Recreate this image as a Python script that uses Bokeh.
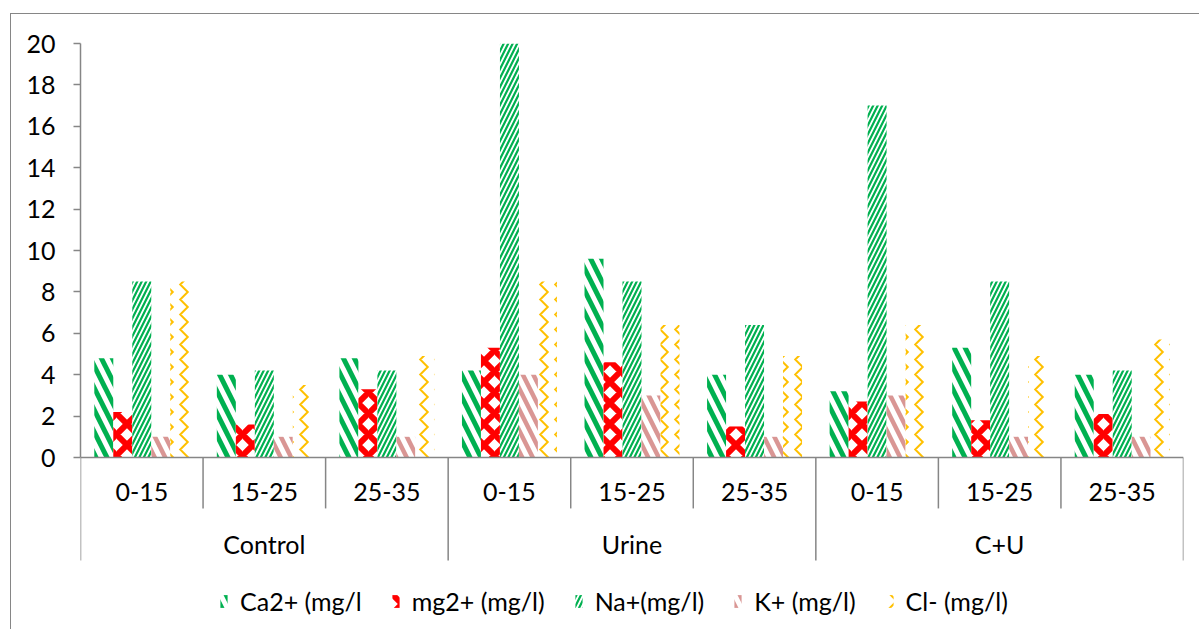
from bokeh.plotting import figure
from bokeh.models import (FactorRange, Range1d, FixedTicker, Span, Legend, LegendItem,
                          ColumnDataSource, LinearAxis)
from bokeh.transform import dodge
from bokeh.core.properties import value
from bokeh.embed import file_html
from bokeh.resources import INLINE

# ---------------- data ----------------
groups = ["Control", "Urine", "C+U"]
depths = ["0-15", "15-25", "25-35"]
series_names = ["Ca2+ (mg/l", "mg2+ (mg/l)", "Na+(mg/l)", "K+ (mg/l)", "Cl- (mg/l)"]
ca = [4.8, 4.0, 4.8, 4.2, 9.6, 4.0, 3.2, 5.3, 4.0]
mg = [2.2, 1.6, 3.3, 5.3, 4.6, 1.5, 2.7, 1.8, 2.1]
na = [8.5, 4.2, 4.2, 20.0, 8.5, 6.4, 17.0, 8.5, 4.2]
k = [1.0, 1.0, 1.0, 4.0, 3.0, 1.0, 3.0, 1.0, 1.0]
cl = [8.5, 3.5, 4.9, 8.5, 6.4, 4.9, 6.4, 4.9, 5.7]
y_ticks = [0, 2, 4, 6, 8, 10, 12, 14, 16, 18, 20]

FONT = "Lato"
FS = "25px"
GRAY = "#868686"

factors = [(g, d) for g in groups for d in depths]
src = ColumnDataSource(dict(x=factors, ca=ca, mg=mg, na=na, k=k, cl=cl))

p = figure(
    x_range=FactorRange(*factors, factor_padding=0, group_padding=0, subgroup_padding=0),
    y_range=Range1d(-8.357, 20),
    width=1189, height=616,
    output_backend="svg", toolbar_location=None,
    x_axis_location=None, y_axis_location=None,
    min_border_left=69, min_border_right=17, min_border_top=29, min_border_bottom=0,
    margin=(13, 0, 0, 10),
    styles={"border-left": "1px solid #868686", "border-top": "1px solid #868686"},
)
p.grid.visible = False
p.outline_line_color = None
p.background_fill_color = "white"
p.border_fill_color = "white"

yax = LinearAxis(bounds=(0, 20), ticker=FixedTicker(ticks=y_ticks))
yax.axis_line_color = GRAY
yax.axis_line_width = 1.5
yax.major_tick_line_color = GRAY
yax.major_tick_line_width = 1.5
yax.major_tick_out = 7
yax.major_tick_in = 0
yax.minor_tick_line_color = None
yax.major_label_standoff = 18
yax.major_label_text_font = FONT
yax.major_label_text_font_size = FS
yax.major_label_text_color = "black"
p.add_layout(yax, "left")

bw = 0.155
offsets = [-2 * bw, -bw, 0, bw, 2 * bw]
cols = ["ca", "mg", "na", "k", "cl"]
styles = [
    dict(hatch_color="#00B050", hatch_pattern="\\", hatch_scale=22, hatch_weight=5),
    dict(hatch_color="#FF0000", hatch_pattern="x", hatch_scale=21, hatch_weight=6),
    dict(hatch_color="#00B050", hatch_pattern="/", hatch_scale=9, hatch_weight=2.2),
    dict(hatch_color="#D99694", hatch_pattern="\\", hatch_scale=21, hatch_weight=4.5),
    dict(hatch_color="#FFC000", hatch_pattern=">", hatch_scale=15, hatch_weight=2),
]
renderers = []
for col, off, st in zip(cols, offsets, styles):
    r = p.vbar(x=dodge("x", off, range=p.x_range), top=col, width=bw, bottom=0,
               source=src, fill_color="white", line_color=None, **st)
    renderers.append(r)

# horizontal axis line
p.add_layout(Span(location=0, dimension="width", line_color=GRAY, line_width=1.5))

# category separators
sub_sep = ColumnDataSource(dict(x=[(g, d) for g in groups for d in depths[1:]]))
p.segment(x0=dodge("x", -0.5, range=p.x_range), x1=dodge("x", -0.5, range=p.x_range),
          y0=0, y1=-2.46, source=sub_sep, line_color=GRAY, line_width=1.5)
grp_sep_l = ColumnDataSource(dict(x=[(g, depths[0]) for g in groups]))
p.segment(x0=dodge("x", -0.5, range=p.x_range), x1=dodge("x", -0.5, range=p.x_range),
          y0=0, y1=-4.98, source=grp_sep_l, line_color=GRAY, line_width=1.5)
grp_sep_r = ColumnDataSource(dict(x=[(groups[-1], depths[-1])]))
p.segment(x0=dodge("x", 0.5, range=p.x_range), x1=dodge("x", 0.5, range=p.x_range),
          y0=0, y1=-4.98, source=grp_sep_r, line_color=GRAY, line_width=1.5)

# category labels
sub_lab = ColumnDataSource(dict(x=factors, t=[f[1] for f in factors], y=[-1.69] * len(factors)))
p.text(x="x", y="y", text="t", source=sub_lab, text_align="center", text_baseline="middle",
       text_font=value(FONT), text_font_size=FS, text_color="black")
grp_lab = ColumnDataSource(dict(x=groups, t=groups, y=[-4.2] * len(groups)))
p.text(x="x", y="y", text="t", source=grp_lab, text_align="center", text_baseline="middle",
       text_font=value(FONT), text_font_size=FS, text_color="black")

legend = Legend(
    items=[LegendItem(label=n, renderers=[r]) for n, r in zip(series_names, renderers)],
    orientation="horizontal", location=(139, 14),
    glyph_width=9, glyph_height=16, label_standoff=12, spacing=29,
    padding=0, margin=0, border_line_color=None, background_fill_alpha=0,
    label_text_font=FONT, label_text_font_size=FS, label_text_color="black",
)
p.add_layout(legend)

open("out.html", "w").write(file_html(p, INLINE))
